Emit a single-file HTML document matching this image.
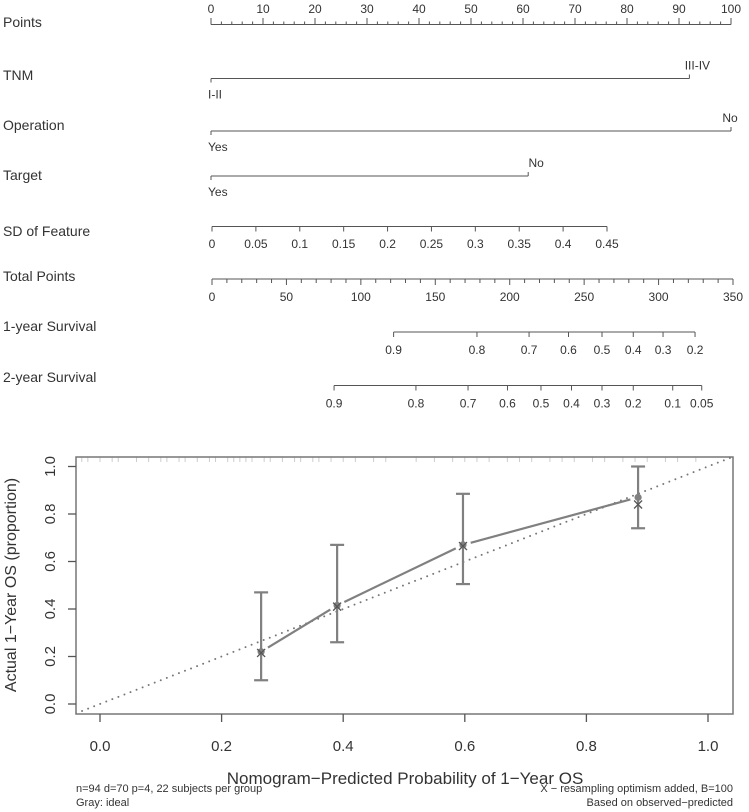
<!DOCTYPE html>
<html><head><meta charset="utf-8"><style>
html,body{margin:0;padding:0;background:#fff;}
svg{display:block;font-family:"Liberation Sans",Arial,sans-serif;}
</style></head><body>
<svg id="s" width="749" height="812" viewBox="0 0 749 812"></svg>
<script>
// ---------- data ----------
const pointsTicks = [0,10,20,30,40,50,60,70,80,90,100];
const tnmLevels = ["I-II","III-IV"];
const tnmPoints = [0,92];
const opLevels = ["Yes","No"];
const opPoints = [0,100];
const targetLevels = ["Yes","No"];
const targetPoints = [0,61];
const sdTicks = [0,0.05,0.1,0.15,0.2,0.25,0.3,0.35,0.4,0.45];
const sdTickLabels = ["0","0.05","0.1","0.15","0.2","0.25","0.3","0.35","0.4","0.45"];
const totalTicks = [0,50,100,150,200,250,300,350];
const surv1Labels = ["0.9","0.8","0.7","0.6","0.5","0.4","0.3","0.2"];
const surv1Total = [122,178,213,239.5,262,283,303,324.5];
const surv2Labels = ["0.9","0.8","0.7","0.6","0.5","0.4","0.3","0.2","0.1","0.05"];
const surv2Total = [82,137,172,198.5,221,241.5,262,283,309.5,329];

const calPred = [0.265,0.39,0.597,0.885];
const calObs = [0.22,0.415,0.67,0.87];
const calCorr = [0.215,0.41,0.665,0.84];
const calLo = [0.10,0.26,0.505,0.74];
const calHi = [0.47,0.67,0.885,1.0];
const calTicks = [0,0.2,0.4,0.6,0.8,1.0];
const calTickLabels = ["0.0","0.2","0.4","0.6","0.8","1.0"];
const rugVals = [-0.03,-0.02,0.0,0.02,0.03,0.06,0.08,0.1,0.11,0.13,0.14,0.16,0.18,0.19,0.21,0.22,0.23,0.24,0.25,0.27,0.28,0.3,0.32,0.33,0.35,0.36,0.38,0.4,0.42,0.45,0.47,0.52,0.55,0.58,0.6,0.62,0.64,0.67,0.69,0.71,0.74,0.76,0.78,0.81,0.83,0.86,0.88,0.9,0.93,0.95,0.98];

// ---------- helpers ----------
const NS="http://www.w3.org/2000/svg";
const svg=document.getElementById('s');
function mk(tag,attrs,parent){const e=document.createElementNS(NS,tag);for(const k in attrs)e.setAttribute(k,attrs[k]);(parent||svg).appendChild(e);return e;}
function ln(x1,y1,x2,y2,st,w,p){return mk('line',{x1,y1,x2,y2,stroke:st,'stroke-width':w},p);}
function tx(x,y,s,size,anchor,p,fill){const t=mk('text',{x,y,'font-size':size,'text-anchor':anchor||'middle',fill:fill||'#333'},p);t.textContent=s;return t;}

const ptX = v => 211 + v*5.2;
const totX = v => 212 + v*(521/350);
const sdX = v => 212 + v*(395/0.45);
const AX='#555';

function rowLabel(name,y,txt){
  const t=tx(3,y,txt,14,'start');
  
  
}
rowLabel('points-row-label',27,'Points');
const gP=mk('g',{});


ln(ptX(0),24.5,ptX(100),24.5,AX,1,gP);
for(let v=0;v<=100;v+=2){const major=v%10===0;ln(ptX(v),24.5,ptX(v),major?18:21.5,AX,1,gP);}
pointsTicks.forEach(v=>tx(ptX(v),13,String(v),12,'middle',gP));

function catRow(name,levels,pts,lineY){
  const g=mk('g',{});
  
  
  ln(ptX(pts[0]),lineY,ptX(pts[1]),lineY,AX,1,g);
  ln(ptX(pts[0]),lineY,ptX(pts[0]),lineY+4,AX,1,g);
  ln(ptX(pts[1]),lineY,ptX(pts[1]),lineY-4,AX,1,g);
  tx(ptX(pts[0])-3,lineY+20,levels[0],12,'start',g);
  tx(ptX(pts[1])+(pts[1]>=99?-1:8),lineY-9,levels[1],12,'middle',g);
}
rowLabel('tnm-row-label',80,'TNM');
catRow('tnm-axis',tnmLevels,tnmPoints,78.5);
rowLabel('operation-row-label',130,'Operation');
catRow('operation-axis',opLevels,opPoints,131);
rowLabel('target-row-label',180,'Target');
catRow('target-axis',targetLevels,targetPoints,176);

rowLabel('sd-feature-row-label',236,' SD of Feature');
const gS=mk('g',{});


ln(sdX(0),226.5,sdX(0.45),226.5,AX,1,gS);
sdTicks.forEach((v,i)=>{ln(sdX(v),226.5,sdX(v),231.5,AX,1,gS);tx(sdX(v),248,sdTickLabels[i],12,'middle',gS);});

rowLabel('total-points-row-label',281,'Total Points');
const gT=mk('g',{});


ln(totX(0),279,totX(350),279,AX,1,gT);
for(let v=0;v<=350;v+=10){ln(totX(v),279,totX(v),v%50===0?285:283,AX,1,gT);}
totalTicks.forEach(v=>tx(totX(v),301,String(v),12,'middle',gT));

function survRow(name,labels,tots,lineY){
  const g=mk('g',{});
  
  
  ln(totX(tots[0]),lineY,totX(tots[tots.length-1]),lineY,AX,1,g);
  tots.forEach((v,i)=>{ln(totX(v),lineY,totX(v),lineY+5,AX,1,g);tx(totX(v),lineY+22,labels[i],12,'middle',g);});
}
rowLabel('one-year-survival-row-label',331,'1-year Survival');
survRow('one-year-survival-axis',surv1Labels,surv1Total,332);
rowLabel('two-year-survival-row-label',382,'2-year Survival');
survRow('two-year-survival-axis',surv2Labels,surv2Total,385.5);

// ---------- calibration plot ----------
const cx = v => 100 + v*608;
const cy = v => 704 - v*237.5;
const L=76,R=733,T=457,B=714;
const gc=mk('g',{});


const clip=mk('clipPath',{id:'cc'},gc);mk('rect',{x:L,y:T,width:R-L,height:B-T},clip);
const xmin=(L-100)/608,xmax=(R-100)/608;
const ideal=ln(cx(xmin),cy(xmin),cx(xmax),cy(xmax),'#777',2,gc);
ideal.setAttribute('stroke-dasharray','0 6.5');ideal.setAttribute('stroke-linecap','round');
ideal.setAttribute('clip-path','url(#cc)');


rugVals.forEach(v=>{const r=ln(cx(v),T,cx(v),T+5,'#ccc',1,gc);r.setAttribute('clip-path','url(#cc)');});
for(let i=0;i<calPred.length-1;i++){
  const x1=cx(calPred[i]),y1=cy(calObs[i]),x2=cx(calPred[i+1]),y2=cy(calObs[i+1]);
  const d=Math.hypot(x2-x1,y2-y1),g=8,ux=(x2-x1)/d,uy=(y2-y1)/d;
  const s=ln(x1+ux*g,y1+uy*g,x2-ux*g,y2-uy*g,'#808080',2.2,gc);
  
  
}
calPred.forEach((p,i)=>{
  const x=cx(p);
  const eg=mk('g',{},gc);
  
  
  ln(x,cy(calLo[i]),x,cy(calHi[i]),'#808080',2.2,eg);
  ln(x-7,cy(calLo[i]),x+7,cy(calLo[i]),'#808080',2.2,eg);
  ln(x-7,cy(calHi[i]),x+7,cy(calHi[i]),'#808080',2.2,eg);
  const c=mk('circle',{cx:x,cy:cy(calObs[i]),r:3.6,fill:'#808080'},gc);
  
  
  const xc=cy(calCorr[i]);
  const xm=mk('path',{d:`M${x-4},${xc-4}L${x+4},${xc+4}M${x-4},${xc+4}L${x+4},${xc-4}`,stroke:'#555',"stroke-width":1.3,fill:'none'},gc);
  
  
});
const fr=mk('rect',{x:L,y:T,width:R-L,height:B-T,fill:'none',stroke:'#777','stroke-width':1.5},gc);


const gx=mk('g',{},gc);


calTicks.forEach((v,i)=>{ln(cx(v),B,cx(v),B+8,'#555',1.3,gx);tx(cx(v),751,calTickLabels[i],15,'middle',gx);});
const gy=mk('g',{},gc);


calTicks.forEach((v,i)=>{ln(L,cy(v),L-8,cy(v),'#555',1.3,gy);const t=tx(0,0,calTickLabels[i],15,'middle',gy);t.setAttribute('transform',`translate(55,${cy(v)}) rotate(-90)`);});
const yt=tx(0,0,'Actual 1\u2212Year OS (proportion)',16,'middle',gc);
yt.setAttribute('transform','translate(16,585) rotate(-90)');


const xt=tx(405,784,'Nomogram\u2212Predicted Probability of 1\u2212Year OS',17,'middle',gc);


const n1=tx(76,792,'n=94 d=70 p=4, 22 subjects per group',11,'start',gc);


const n2=tx(76,806,'Gray: ideal',11,'start',gc);


const n3=tx(733,792,'X \u2212 resampling optimism added, B=100',11,'end',gc);


const n4=tx(733,806,'Based on observed\u2212predicted',11,'end',gc);


</script>
</body></html>
